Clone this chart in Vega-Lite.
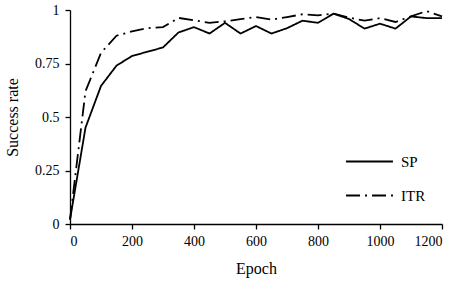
{
  "$schema": "https://vega.github.io/schema/vega-lite/v6.json",
  "width": 372,
  "height": 214,
  "autosize": {"type": "none"},
  "padding": {"left": 70, "top": 10, "right": 16, "bottom": 58},
  "background": "white",
  "config": {
    "view": {"stroke": null},
    "font": "Liberation Serif",
    "axis": {"grid": false, "domainColor": "black", "tickColor": "black", "labelColor": "black", "titleColor": "black", "labelFont": "Liberation Serif", "titleFont": "Liberation Serif", "labelFontSize": 14, "titleFontSize": 16, "titleFontWeight": "normal", "tickSize": 5, "domainWidth": 1.3, "tickWidth": 1.3}
  },
  "data": {"values": [
    {"epoch": 0, "rate": 0.02, "series": "SP"},
    {"epoch": 50, "rate": 0.45, "series": "SP"},
    {"epoch": 100, "rate": 0.645, "series": "SP"},
    {"epoch": 150, "rate": 0.74, "series": "SP"},
    {"epoch": 200, "rate": 0.785, "series": "SP"},
    {"epoch": 250, "rate": 0.805, "series": "SP"},
    {"epoch": 300, "rate": 0.825, "series": "SP"},
    {"epoch": 350, "rate": 0.895, "series": "SP"},
    {"epoch": 400, "rate": 0.92, "series": "SP"},
    {"epoch": 450, "rate": 0.89, "series": "SP"},
    {"epoch": 500, "rate": 0.94, "series": "SP"},
    {"epoch": 550, "rate": 0.89, "series": "SP"},
    {"epoch": 600, "rate": 0.925, "series": "SP"},
    {"epoch": 650, "rate": 0.89, "series": "SP"},
    {"epoch": 700, "rate": 0.915, "series": "SP"},
    {"epoch": 750, "rate": 0.95, "series": "SP"},
    {"epoch": 800, "rate": 0.94, "series": "SP"},
    {"epoch": 850, "rate": 0.983, "series": "SP"},
    {"epoch": 900, "rate": 0.958, "series": "SP"},
    {"epoch": 950, "rate": 0.913, "series": "SP"},
    {"epoch": 1000, "rate": 0.936, "series": "SP"},
    {"epoch": 1050, "rate": 0.913, "series": "SP"},
    {"epoch": 1100, "rate": 0.97, "series": "SP"},
    {"epoch": 1150, "rate": 0.962, "series": "SP"},
    {"epoch": 1200, "rate": 0.962, "series": "SP"},
    {"epoch": 0, "rate": 0.02, "series": "ITR"},
    {"epoch": 50, "rate": 0.62, "series": "ITR"},
    {"epoch": 100, "rate": 0.8, "series": "ITR"},
    {"epoch": 150, "rate": 0.88, "series": "ITR"},
    {"epoch": 200, "rate": 0.9, "series": "ITR"},
    {"epoch": 250, "rate": 0.915, "series": "ITR"},
    {"epoch": 300, "rate": 0.92, "series": "ITR"},
    {"epoch": 350, "rate": 0.963, "series": "ITR"},
    {"epoch": 400, "rate": 0.952, "series": "ITR"},
    {"epoch": 450, "rate": 0.94, "series": "ITR"},
    {"epoch": 500, "rate": 0.947, "series": "ITR"},
    {"epoch": 550, "rate": 0.957, "series": "ITR"},
    {"epoch": 600, "rate": 0.967, "series": "ITR"},
    {"epoch": 650, "rate": 0.955, "series": "ITR"},
    {"epoch": 700, "rate": 0.967, "series": "ITR"},
    {"epoch": 750, "rate": 0.98, "series": "ITR"},
    {"epoch": 800, "rate": 0.975, "series": "ITR"},
    {"epoch": 850, "rate": 0.983, "series": "ITR"},
    {"epoch": 900, "rate": 0.965, "series": "ITR"},
    {"epoch": 950, "rate": 0.95, "series": "ITR"},
    {"epoch": 1000, "rate": 0.962, "series": "ITR"},
    {"epoch": 1050, "rate": 0.944, "series": "ITR"},
    {"epoch": 1100, "rate": 0.97, "series": "ITR"},
    {"epoch": 1150, "rate": 0.995, "series": "ITR"},
    {"epoch": 1200, "rate": 0.97, "series": "ITR"}
  ]},
  "mark": {"type": "line", "color": "black", "strokeWidth": 1.8},
  "encoding": {
    "x": {"field": "epoch", "type": "quantitative", "title": "Epoch",
      "scale": {"domain": [0, 1200], "nice": false},
      "axis": {"values": [0, 200, 400, 600, 800, 1000, 1200], "labelExpr": "'' + datum.value", "labelPadding": 5, "titlePadding": 12}},
    "y": {"field": "rate", "type": "quantitative", "title": "Success rate",
      "scale": {"domain": [0, 1], "nice": false},
      "axis": {"values": [0, 0.25, 0.5, 0.75, 1], "labelExpr": "'' + datum.value", "labelPadding": 6, "titlePadding": 14}},
    "strokeDash": {"field": "series", "type": "nominal",
      "scale": {"domain": ["SP", "ITR"], "range": [[1, 0], [14, 5, 2, 5]]},
      "legend": {"title": null, "orient": "none", "legendX": 292, "legendY": 144,
        "symbolType": "M-5,0H5", "symbolSize": 88, "symbolStrokeWidth": 1.8, "symbolStrokeColor": "black",
        "labelOffset": 24, "labelFontSize": 15, "labelFont": "Liberation Serif", "labelColor": "black",
        "rowPadding": 18, "padding": 0}}
  }
}
